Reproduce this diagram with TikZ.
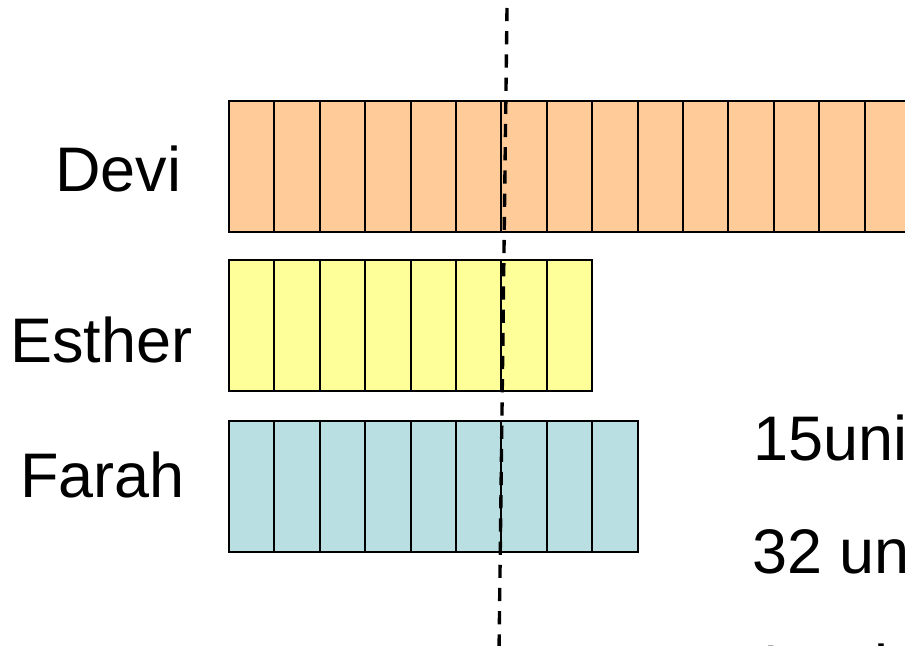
\documentclass[tikz,border=0pt]{standalone}
\usepackage{fontspec}
\setmainfont{Liberation Sans}
\definecolor{devifill}{RGB}{255,204,153}
\definecolor{estherfill}{RGB}{255,255,153}
\definecolor{farahfill}{RGB}{186,223,227}
\tikzset{
  devicell/.style={fill=devifill, draw=black, line width=1.4pt},
  esthercell/.style={fill=estherfill, draw=black, line width=1.4pt},
  farahcell/.style={fill=farahfill, draw=black, line width=1.4pt},
  namelabel/.style={font=\fontsize{44.8}{50}\selectfont, anchor=base west, inner sep=0pt},
  sumlabel/.style={font=\fontsize{44.8}{50}\selectfont, anchor=base west, inner sep=0pt},
  cutline/.style={draw=black, line width=2.4pt, dash pattern=on 0.33cm off 0.25cm},
}

\begin{document}
\begin{tikzpicture}
\useasboundingbox (0,0) rectangle (22.625,16.125);
\clip (0,0) rectangle (22.625,16.125);
% Devi: 15 units
\draw[devicell] (5.725,10.325) rectangle ++(1.135,3.275);
\draw[devicell] (6.860,10.325) rectangle ++(1.135,3.275);
\draw[devicell] (7.995,10.325) rectangle ++(1.135,3.275);
\draw[devicell] (9.130,10.325) rectangle ++(1.135,3.275);
\draw[devicell] (10.265,10.325) rectangle ++(1.135,3.275);
\draw[devicell] (11.400,10.325) rectangle ++(1.135,3.275);
\draw[devicell] (12.535,10.325) rectangle ++(1.135,3.275);
\draw[devicell] (13.670,10.325) rectangle ++(1.135,3.275);
\draw[devicell] (14.805,10.325) rectangle ++(1.135,3.275);
\draw[devicell] (15.940,10.325) rectangle ++(1.135,3.275);
\draw[devicell] (17.075,10.325) rectangle ++(1.135,3.275);
\draw[devicell] (18.210,10.325) rectangle ++(1.135,3.275);
\draw[devicell] (19.345,10.325) rectangle ++(1.135,3.275);
\draw[devicell] (20.480,10.325) rectangle ++(1.135,3.275);
\draw[devicell] (21.615,10.325) rectangle ++(1.135,3.275);
% Esther: 8 units
\draw[esthercell] (5.725,6.350) rectangle ++(1.135,3.275);
\draw[esthercell] (6.860,6.350) rectangle ++(1.135,3.275);
\draw[esthercell] (7.995,6.350) rectangle ++(1.135,3.275);
\draw[esthercell] (9.130,6.350) rectangle ++(1.135,3.275);
\draw[esthercell] (10.265,6.350) rectangle ++(1.135,3.275);
\draw[esthercell] (11.400,6.350) rectangle ++(1.135,3.275);
\draw[esthercell] (12.535,6.350) rectangle ++(1.135,3.275);
\draw[esthercell] (13.670,6.350) rectangle ++(1.135,3.275);
% Farah: 9 units
\draw[farahcell] (5.725,2.325) rectangle ++(1.135,3.275);
\draw[farahcell] (6.860,2.325) rectangle ++(1.135,3.275);
\draw[farahcell] (7.995,2.325) rectangle ++(1.135,3.275);
\draw[farahcell] (9.130,2.325) rectangle ++(1.135,3.275);
\draw[farahcell] (10.265,2.325) rectangle ++(1.135,3.275);
\draw[farahcell] (11.400,2.325) rectangle ++(1.135,3.275);
\draw[farahcell] (12.535,2.325) rectangle ++(1.135,3.275);
\draw[farahcell] (13.670,2.325) rectangle ++(1.135,3.275);
\draw[farahcell] (14.805,2.325) rectangle ++(1.135,3.275);
% names
\node[namelabel] (devi) at (1.375,11.325) {Devi};
\node[namelabel] (esther) at (0.250,7.075) {Esther};
\node[namelabel] (farah) at (0.500,3.700) {Farah};
% sums on the right
\node[sumlabel] (devisum) at (18.825,4.625) {15units};
\node[sumlabel] (totalsum) at (18.800,1.800) {32 units};
\node[sumlabel] (oneunit) at (18.800,-1.100) {1 unit};
% cut line
\coordinate (cuttop) at (12.675,15.925);
\coordinate (cutbottom) at (12.475,-0.200);
\draw[cutline] (cuttop) -- (cutbottom);
\end{tikzpicture}
\end{document}
